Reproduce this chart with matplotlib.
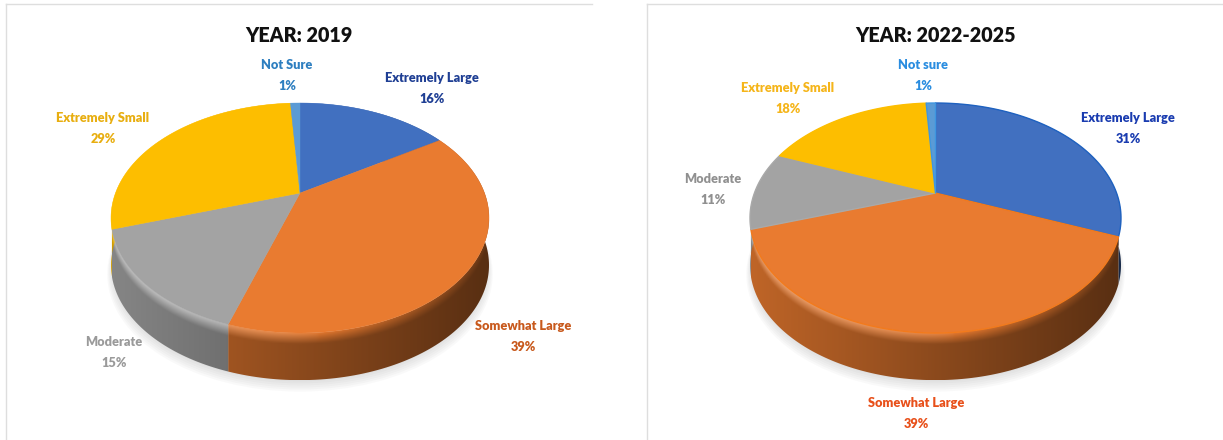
import numpy as np
import matplotlib
matplotlib.use("Agg")
import matplotlib.pyplot as plt
from matplotlib.lines import Line2D
from matplotlib.patches import Circle, Polygon

W, H = 1223, 440

# Slices run clockwise from twelve o'clock
categories_2019 = ["Extremely Large", "Somewhat Large", "Moderate", "Extremely Small", "Not Sure"]
values_2019 = [16, 39, 15, 29, 1]
categories_2022 = ["Extremely Large", "Somewhat Large", "Moderate", "Extremely Small", "Not sure"]
values_2022 = [31, 39, 11, 18, 1]

slice_colors = ["#4170c0", "#e97b30", "#a3a3a3", "#fdbe00", "#5b9bd5"]
label_colors_2019 = ["#1f3f94", "#c8591c", "#9a9a9a", "#e8ae10", "#2e7fc0"]
label_colors_2022 = ["#1a3cb0", "#e8501a", "#909090", "#f5b51a", "#2a8de0"]

# Label centres in pixels, same order as the slices
label_xy_2019 = [(432, 78), (523, 326), (114, 342), (103, 118), (287, 65)]
label_xy_2022 = [(1128, 118), (916, 403), (713, 179), (788, 88), (923, 65)]

# Perspective settings of the disc
APEX = 0.217   # how far the pie centre sits above the ellipse centre
DEPTH = 0.41   # wall height in units of the vertical radius
BEVEL = 0.10   # height of the rounded rim
RY = 115
CY = 218

FONT = ["Lato", "Liberation Sans", "DejaVu Sans"]


def project(phi):
    """Map a clockwise angle on the flat disc to the tilted ellipse."""
    u, v = np.sin(phi), np.cos(phi)
    d = 1 + APEX * v
    return u * np.sqrt(1 - APEX ** 2) / d, (v + APEX) / d


def wall_image(base, u0, u1, y0, y1):
    """Shaded wall of one slice: bright rim on the left, dark towards the right."""
    c = np.array(matplotlib.colors.to_rgb(base))
    us = np.linspace(u0, u1, 240)
    ys = np.linspace(y1, y0, 160)
    uu, yy = np.meshgrid(us, ys)
    t = (uu + 1) / 2
    below = -np.sqrt(np.clip(1 - uu ** 2, 0, 1)) - yy
    mix = np.clip(below / BEVEL, 0, 1)[..., None]
    wall = c * (0.82 - 0.44 * t)[..., None]
    light = (0.34 * np.clip(1 - t / 0.55, 0, 1) ** 0.5)[..., None]
    dim = (1 - 1.15 * np.clip(t - 0.55, 0, 1))[..., None]
    rim = (c * (1 - light) + light) * dim
    return np.clip(rim * (1 - mix) + wall * mix, 0, 1)


def draw_pie(values, cx, rx, edges=None):
    ax = fig.add_axes([0, 0, 1, 1])
    ax.patch.set_alpha(0)
    xlim = (-cx / rx, (W - cx) / rx)
    ylim = ((CY - H) / RY, CY / RY)
    ax.axis("off")

    # soft shadow under the disc
    for i in range(6):
        ax.add_patch(Circle((0, -DEPTH - 0.02 - 0.012 * i), 0.99 + 0.006 * i,
                            color="#808080", alpha=0.045, lw=0, zorder=0))

    bounds = np.radians(np.concatenate([[0], np.cumsum(values)]) * 3.6)

    # walls first, the top face hides whatever is behind it
    for k, col in enumerate(slice_colors):
        phi = np.linspace(bounds[k], bounds[k + 1], max(int(values[k] * 3), 4))
        u, v = project(phi)
        outline = np.c_[np.r_[u, u[::-1]], np.r_[v, v[::-1] - DEPTH]]
        u0, u1 = u.min(), u.max()
        y0, y1 = outline[:, 1].min(), outline[:, 1].max()
        if u1 - u0 < 1e-3:
            continue
        im = ax.imshow(wall_image(col, u0, u1, y0, y1), extent=(u0, u1, y0, y1),
                       aspect="auto", zorder=1, interpolation="bilinear")
        clip = Polygon(outline, closed=True, transform=ax.transData)
        im.set_clip_path(clip)

    # top face
    for k, col in enumerate(slice_colors):
        phi = np.linspace(bounds[k], bounds[k + 1], max(int(values[k] * 3), 4))
        u, v = project(phi)
        ec = edges[k] if edges else col
        lw = 1.0 if edges else 0.3
        ax.fill(np.r_[0, u], np.r_[APEX, v], facecolor=col, edgecolor=ec, linewidth=lw,
                joinstyle="round", zorder=2)

    ax.set_xlim(*xlim)
    ax.set_ylim(*ylim)


def draw_labels(categories, values, xy, colors):
    for name, val, (x, y), col in zip(categories, values, xy, colors):
        fig.text(x / W, 1 - y / H, name, color=col, family=FONT, weight="heavy",
                 fontsize=9.2, ha="center", va="center")
        fig.text(x / W, 1 - (y + 21) / H, f"{val}%", color=col, family=FONT, weight="heavy",
                 fontsize=9.2, ha="center", va="center")


fig = plt.figure(figsize=(W / 100, H / 100), dpi=100, facecolor="white")

# panel borders
panel_lines = [((6, 6), (4, 440)), ((6, 592), (4, 4)),
               ((647, 647), (4, 440)), ((647, 1223), (4, 4))]
for xs, ys in panel_lines:
    fig.add_artist(Line2D([x / W for x in xs], [1 - y / H for y in ys], color="#dedede", lw=1))

draw_pie(values_2019, 300, 189)
draw_pie(values_2022, 935.5, 185.5,
         edges=["#1f62c0", "#f27a1c", "#a9a9a9", "#fdbe00", "#3f96e0"])

draw_labels(categories_2019, values_2019, label_xy_2019, label_colors_2019)
draw_labels(categories_2022, values_2022, label_xy_2022, label_colors_2022)

fig.text(299 / W, 1 - 35 / H, "YEAR: 2019", family=FONT, weight="heavy", fontsize=14.2,
         ha="center", va="center", color="#111111")
fig.text(935 / W, 1 - 35 / H, "YEAR: 2022-2025", family=FONT, weight="heavy", fontsize=14.2,
         ha="center", va="center", color="#111111")

fig.savefig("out.png", dpi=100)
